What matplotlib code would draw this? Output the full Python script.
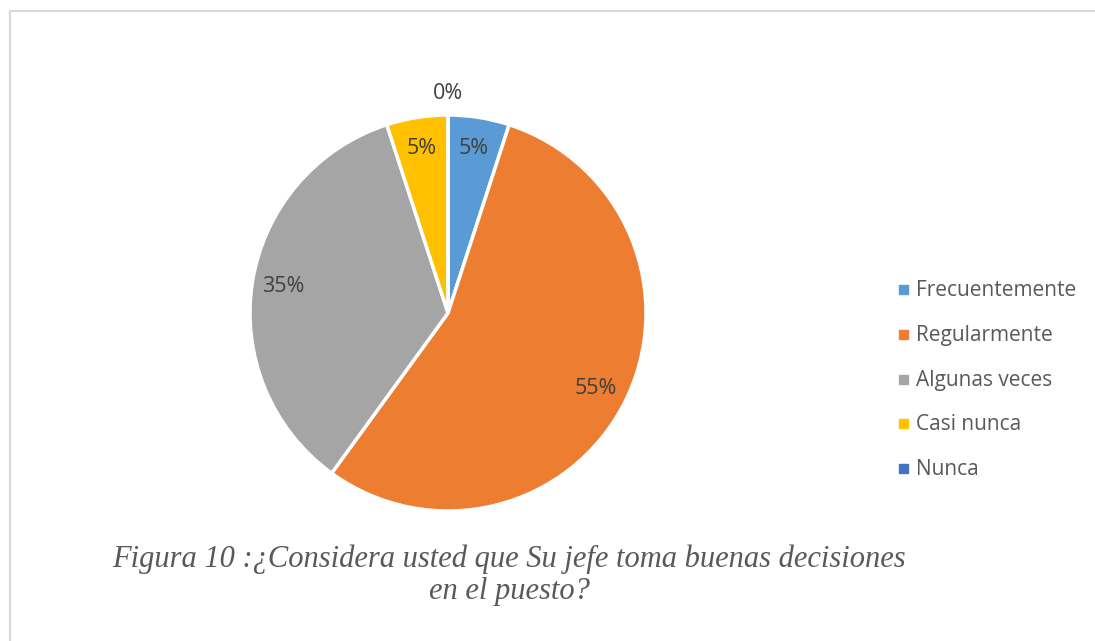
import matplotlib
matplotlib.use("Agg")
import matplotlib.pyplot as plt
from matplotlib.lines import Line2D
from matplotlib.patches import Rectangle
import numpy as np

categories = ["Frecuentemente", "Regularmente", "Algunas veces", "Casi nunca", "Nunca"]
values = [5, 55, 35, 5, 0]
colors = ["#5B9BD5", "#ED7D31", "#A5A5A5", "#FFC000", "#4472C4"]
title = "Figura 10 :¿Considera usted que Su jefe toma buenas decisiones\nen el puesto?"

W, H = 1095, 641
fig = plt.figure(figsize=(W / 100, H / 100), dpi=100)
fig.patch.set_facecolor("white")

# chart frame (top and left edges visible)
fig.add_artist(Line2D([10 / W, 10 / W], [0, 1 - 11 / H], transform=fig.transFigure,
                      color="#D9D9D9", lw=1.5))
fig.add_artist(Line2D([10 / W, 1], [1 - 11 / H, 1 - 11 / H], transform=fig.transFigure,
                      color="#D9D9D9", lw=1.5))

# pie axes
cx, cy, r = 448, 313, 198
ax = fig.add_axes([(cx - r) / W, 1 - (cy + r) / H, 2 * r / W, 2 * r / H])
wedges, _ = ax.pie(values, colors=colors, startangle=90, counterclock=False,
                   wedgeprops=dict(edgecolor="white", linewidth=2.5))
ax.set_xlim(-1, 1)
ax.set_ylim(-1, 1)
ax.set_aspect("equal")
ax.axis("off")

label_font = ["Open Sans", "DejaVu Sans"]
for w, v in zip(wedges, values):
    ang = np.deg2rad((w.theta1 + w.theta2) / 2)
    d = 0.84 if v > 0 else 1.11
    ax.text(d * np.cos(ang), d * np.sin(ang), f"{v}%", ha="center", va="center",
            fontsize=15.5, color="#404040", family=label_font)

# legend
y0, dy = 289.5, 44.8
for i, (c, lab) in enumerate(zip(colors, categories)):
    y = y0 + i * dy
    fig.add_artist(Rectangle((899 / W, 1 - (y + 4.5) / H), 9 / W, 9 / H,
                             transform=fig.transFigure, color=c))
    fig.text(916 / W, 1 - (y + 1) / H, lab, ha="left", va="center", fontsize=15,
             color="#595959", family=label_font)

fig.text(509 / W, 1 - 575 / H, title, ha="center", va="center", fontsize=22,
         color="#595959", family="Liberation Serif", style="italic",
         linespacing=1.12)

fig.savefig("out.png", dpi=100)
